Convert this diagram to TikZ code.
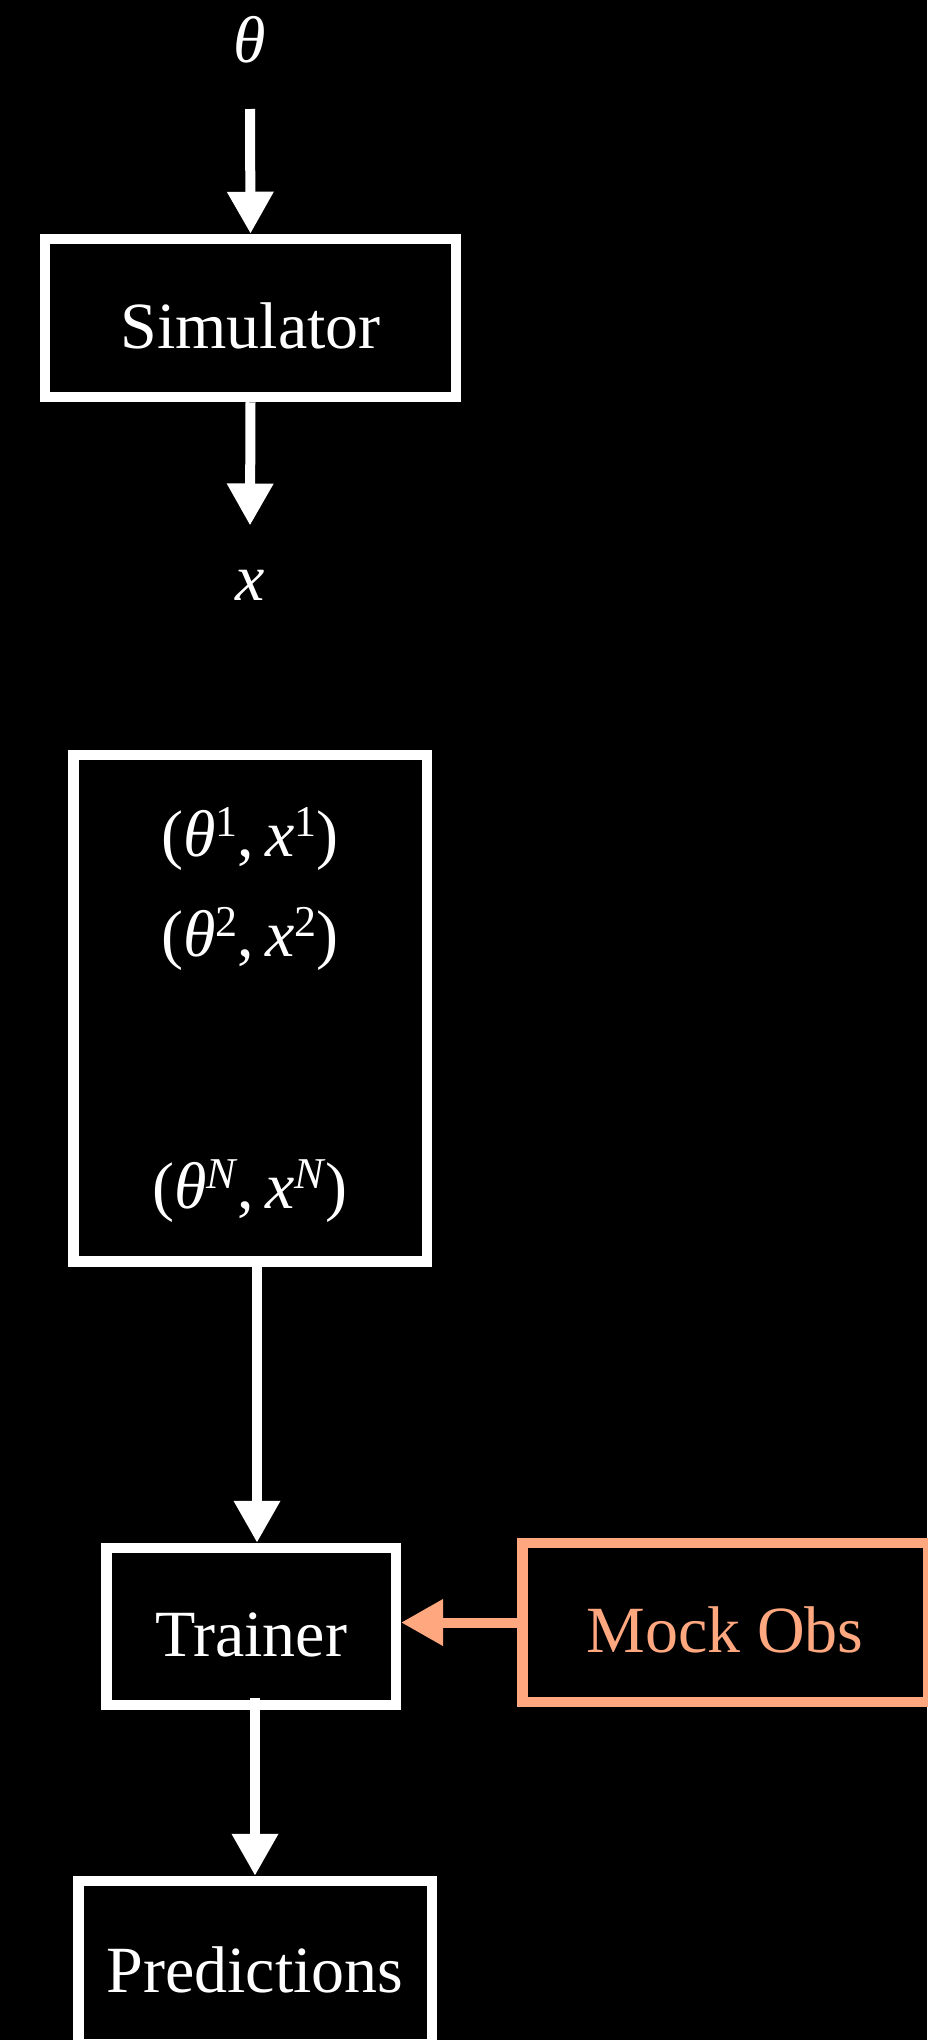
\documentclass[tikz,border=0pt]{standalone}
\usepackage{fontspec}
\setmainfont{Liberation Serif}
\usetikzlibrary{arrows.meta,positioning}
\definecolor{mockorange}{RGB}{255,168,128}
\newcommand{\upidx}[1]{\raisebox{20pt}{\fontsize{44}{44}\selectfont #1}}
\newcommand{\pair}[1]{(\textit{θ}\upidx{#1},\,\textit{x}\upidx{#1})}

\begin{document}
\begin{tikzpicture}[x=1pt, y=-1pt,
    box/.style={rectangle, draw=white, line width=10.5pt, text=white,
        font=\fontsize{66}{79}\selectfont, text height=60pt, text depth=0pt, inner sep=0pt},
    lbl/.style={text=white, font=\fontsize{66}{79}\selectfont, anchor=base, inner sep=0pt},
    arr/.style={-{Triangle[length=42pt, width=44pt]}, line width=10pt, white}
]
    \fill[black] (0,0) rectangle (927,2040);
    \useasboundingbox (0,0) rectangle (927,2040);

    % simulator stage
    \node[lbl] (theta) at (250,62) {\textit{θ}};
    \node[box, minimum width=411pt, minimum height=158pt] (sim) at (250.5,318) {Simulator};
    \node[lbl] (xout) at (250,600) {\textit{x}};

    % stored pairs
    \node[box, minimum width=353.5pt, minimum height=506.5pt] (data) at (250,1008) {};
    \node[lbl] (p1) at (250,856) {\pair{1}};
    \node[lbl] (p2) at (250,956) {\pair{2}};
    \node[lbl] (pN) at (250,1208) {\pair{\textit{N}}};

    % training
    \node[box, minimum width=289.5pt, minimum height=157pt] (trainer) at (251,1626.5) {Trainer};
    \node[box, draw=mockorange, text=mockorange, minimum width=405.5pt, minimum height=159pt] (mock) at (725,1622.5) {Mock Obs};
    \node[box, minimum width=353.5pt, minimum height=163pt] (pred) at (255,1962.5) {Predictions};

    \draw[arr] ([yshift=-47pt]theta.base) -- (sim.north);
    \draw[arr] (sim.south) -- ([yshift=44pt]xout.north);
    \draw[arr] ([xshift=7pt]data.south) -- ([xshift=6pt]trainer.north);
    \draw[arr, mockorange] (mock.west) -- (mock.west -| trainer.east);
    \draw[arr] ([yshift=12pt]pred.north |- trainer.south) -- (pred.north);
\end{tikzpicture}
\end{document}
